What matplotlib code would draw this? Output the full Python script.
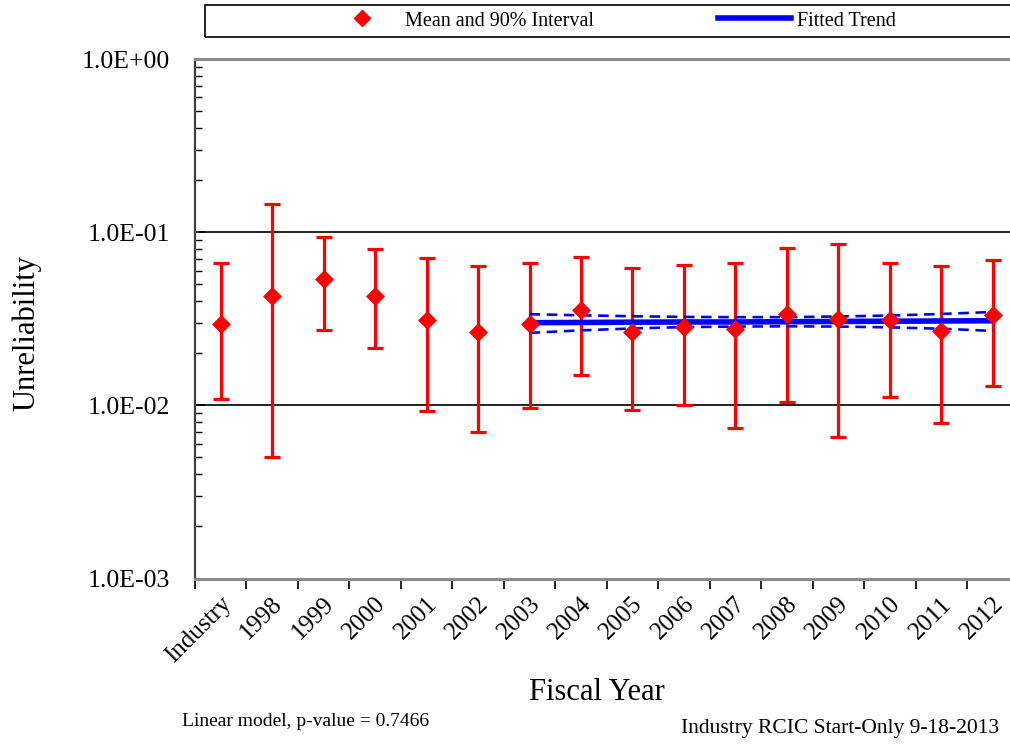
import numpy as np
import matplotlib
matplotlib.use('Agg')
import matplotlib.pyplot as plt
from matplotlib.lines import Line2D
from matplotlib.patches import Rectangle
from matplotlib.ticker import FixedLocator, LogLocator, FuncFormatter, NullFormatter
import matplotlib.transforms as mtransforms

plt.rcParams['font.family'] = ['Liberation Serif', 'DejaVu Serif']

# data
categories = ['Industry', '1998', '1999', '2000', '2001', '2002', '2003', '2004',
              '2005', '2006', '2007', '2008', '2009', '2010', '2011', '2012']
mean_vals = [0.0293, 0.0428, 0.0535, 0.0428, 0.0309, 0.0265, 0.0293, 0.0355,
             0.0265, 0.0285, 0.0275, 0.0337, 0.0314, 0.0309, 0.0270, 0.0333]
upper_vals = [0.0660, 0.1445, 0.0943, 0.0797, 0.0707, 0.0636, 0.0660, 0.0717,
              0.0622, 0.0647, 0.0667, 0.0805, 0.0849, 0.0668, 0.0636, 0.0692]
lower_vals = [0.0109, 0.00505, 0.0271, 0.0214, 0.00923, 0.00704, 0.0097, 0.0149,
              0.00936, 0.0101, 0.0074, 0.0104, 0.00656, 0.0112, 0.0079, 0.0130]

trend_years = ['2003', '2004', '2005', '2006', '2007', '2008', '2009', '2010', '2011', '2012']
trend_vals = [0.0300, 0.0301, 0.0302, 0.0303, 0.0303, 0.0304, 0.0305, 0.0306, 0.0307, 0.0308]
trend_upper = [0.0336, 0.0331, 0.0327, 0.0324, 0.0323, 0.0323, 0.0326, 0.0330, 0.0337, 0.0346]
trend_lower = [0.0262, 0.0271, 0.0278, 0.0283, 0.0285, 0.0286, 0.0285, 0.0282, 0.0277, 0.0269]

W, H = 1010, 744
fig = plt.figure(figsize=(W / 100, H / 100), dpi=100)
ax = fig.add_axes([195 / W, 1 - 578.5 / H, 823.5 / W, 519.5 / H])

x = np.arange(len(categories))
mean = np.array(mean_vals)
yerr = [mean - np.array(lower_vals), np.array(upper_vals) - mean]

red = '#ff0000'
blue = '#0000ff'

ax.errorbar(x, mean, yerr=yerr, fmt='none', ecolor=red, elinewidth=2.3,
            capsize=6, capthick=2.3, zorder=2)

tx = np.array([categories.index(t) for t in trend_years])
ax.plot(tx, trend_vals, color=blue, lw=4, zorder=3)
ax.plot(tx, trend_upper, color=blue, lw=1.9, ls=(0, (4, 2.5)), zorder=3)
ax.plot(tx, trend_lower, color=blue, lw=1.9, ls=(0, (4, 2.5)), zorder=3)

ax.plot(x, mean, ls='none', marker='D', ms=9, color=red, mec=red, mew=0.5, zorder=4)

ax.set_yscale('log')
ax.set_ylim(1e-3, 1e0)
ax.set_xlim(-0.5, len(categories) - 0.5)

ax.yaxis.set_major_locator(FixedLocator([1e-3, 1e-2, 1e-1, 1e0]))
ax.yaxis.set_minor_locator(LogLocator(base=10, subs=np.arange(2, 10)))
ax.yaxis.set_major_formatter(FuncFormatter(lambda v, p: '%.1E' % v))
ax.yaxis.set_minor_formatter(NullFormatter())
ax.tick_params(axis='y', which='major', direction='in', length=7, width=1.2,
               labelsize=18.5, pad=18, right=False)
ax.tick_params(axis='y', which='minor', direction='in', length=5, width=1.0, right=False)

ax.xaxis.set_major_locator(FixedLocator(np.arange(-0.5, len(categories) - 0.5)))
ax.xaxis.set_major_formatter(NullFormatter())
ax.xaxis.set_minor_locator(FixedLocator(x))
ax.set_xticklabels(categories, minor=True)
ax.tick_params(axis='x', which='major', direction='out', length=7, width=1.2, top=False)
ax.tick_params(axis='x', which='minor', length=0, labelsize=18, pad=16)
offset = mtransforms.ScaledTranslation(7 / 100, 0, fig.dpi_scale_trans)
for lab in ax.xaxis.get_minorticklabels():
    lab.set_rotation(45)
    lab.set_ha('right')
    lab.set_va('center')
    lab.set_rotation_mode('anchor')
    lab.set_transform(lab.get_transform() + offset)

ax.yaxis.grid(True, which='major', color='black', lw=1.2)
ax.set_axisbelow(True)
ax.spines['top'].set_color('#8c8c8c')
ax.spines['top'].set_linewidth(2.2)
ax.spines['bottom'].set_color('#8c8c8c')
ax.spines['bottom'].set_linewidth(2.2)
ax.spines['left'].set_color('#404040')
ax.spines['left'].set_linewidth(1.6)
ax.spines['right'].set_visible(False)

fig.text(27 / W, 1 - 333 / H, 'Unreliability', rotation=90, fontsize=22,
         ha='center', va='center')
fig.text(597 / W, 1 - 692 / H, 'Fiscal Year', fontsize=22, ha='center', va='center')
fig.text(182 / W, 1 - 722 / H, 'Linear model, p-value = 0.7466', fontsize=14,
         ha='left', va='center')
fig.text(681 / W, 1 - 729 / H, 'Industry RCIC Start-Only 9-18-2013', fontsize=15.5,
         ha='left', va='center')

# legend box across the top
fig.patches.append(Rectangle((205 / W, 1 - 37 / H), 830 / W, 32 / H,
                             transform=fig.transFigure, fill=False,
                             ec='black', lw=1.2))
handles = [Line2D([], [], ls='none', marker='D', ms=8, color=red),
           Line2D([], [], color=blue, lw=4)]
fig.legend(handles, ['Mean and 90% Interval', 'Fitted Trend'], loc='center',
           bbox_to_anchor=(611 / W, 1 - 21 / H), ncol=2, frameon=False,
           fontsize=14.5, handlelength=3.6, handletextpad=0.3, columnspacing=6.2)

fig.savefig('out.png', dpi=100)
